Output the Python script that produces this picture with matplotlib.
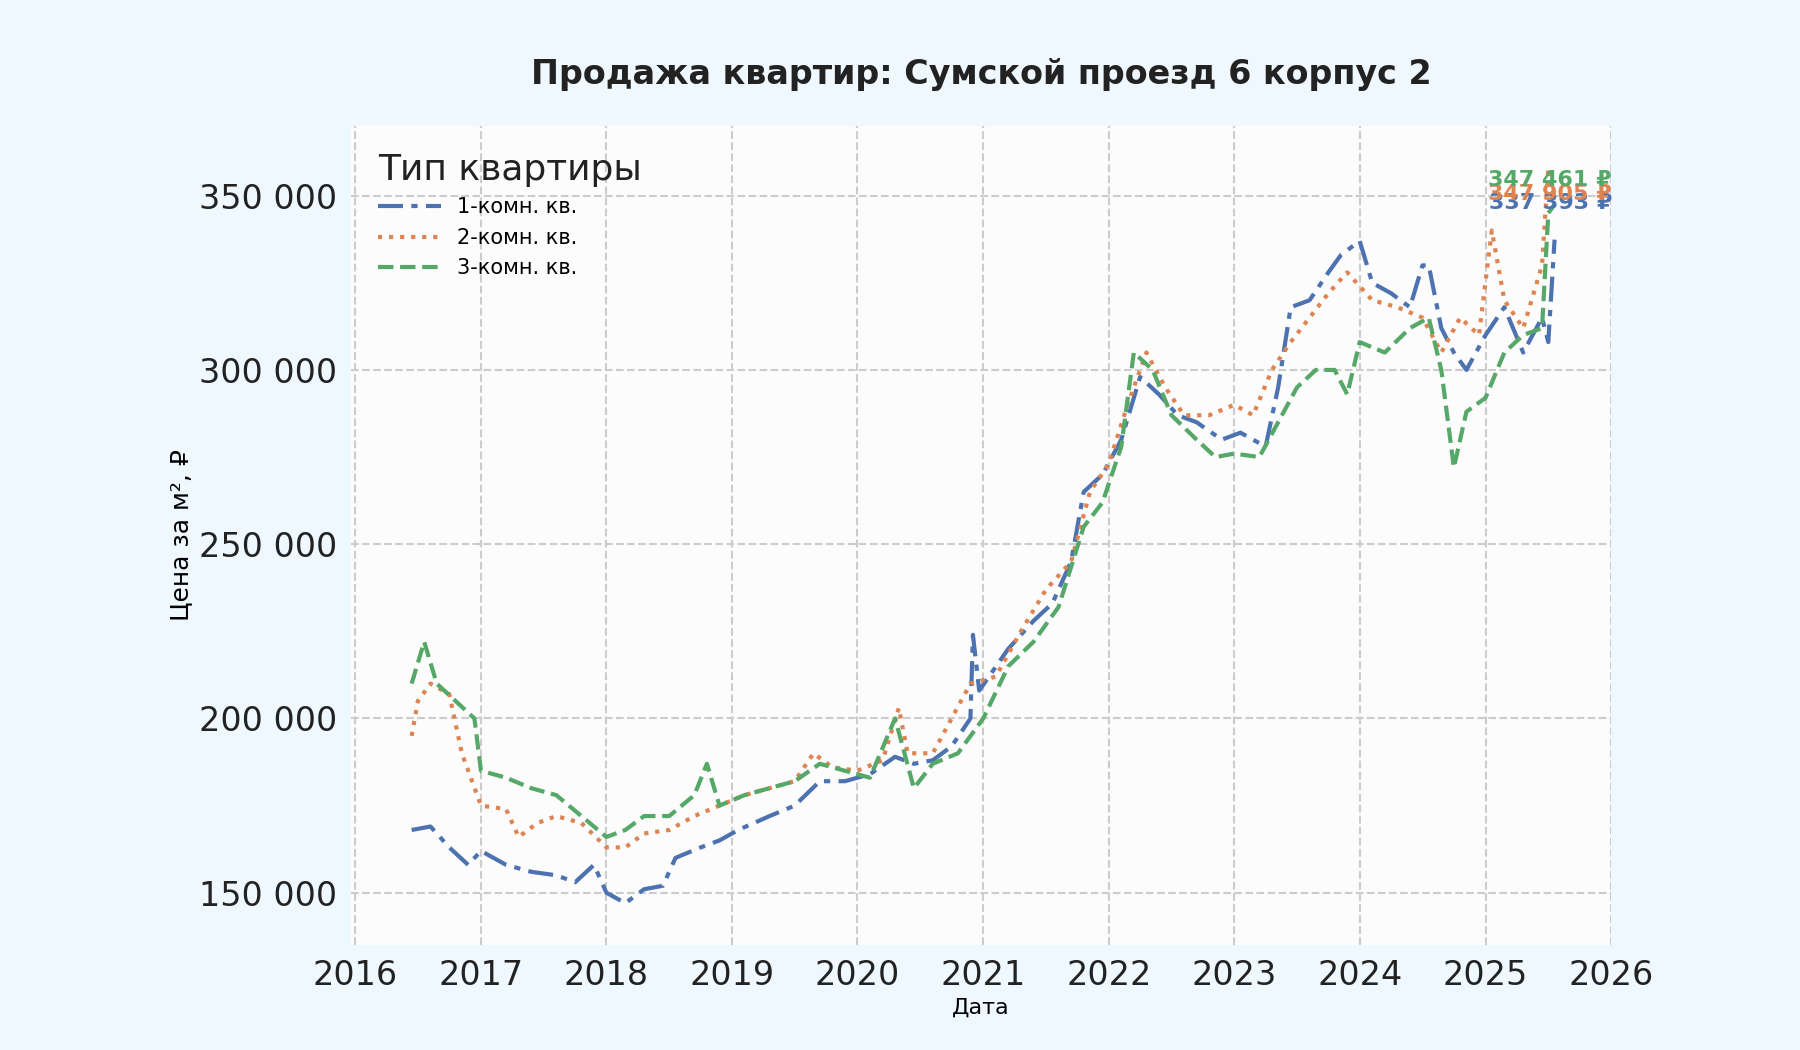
import numpy as np
import pandas as pd
import matplotlib
matplotlib.use('Agg')
import matplotlib.pyplot as plt
import matplotlib.dates as mdates
from matplotlib.ticker import FuncFormatter

# decimal-year dates and prices per m2
t1 = [2016.45, 2016.6, 2016.75, 2016.9, 2017.0, 2017.2, 2017.4, 2017.6, 2017.75, 2017.9, 2018.0,
      2018.15, 2018.3, 2018.45, 2018.55, 2018.75, 2018.9, 2019.05, 2019.3, 2019.5, 2019.7, 2019.9,
      2020.1, 2020.3, 2020.45, 2020.6, 2020.75, 2020.9, 2020.92, 2020.97, 2021.2, 2021.4, 2021.55,
      2021.7, 2021.8, 2021.95, 2022.1, 2022.25, 2022.4, 2022.55, 2022.7, 2022.9, 2023.05, 2023.25,
      2023.35, 2023.45, 2023.6, 2023.75, 2023.85, 2024.0, 2024.1, 2024.25, 2024.4, 2024.5, 2024.55,
      2024.65, 2024.75, 2024.85, 2025.0, 2025.15, 2025.3, 2025.45, 2025.5, 2025.55]
p1 = [168e3, 169e3, 163e3, 158e3, 162e3, 158e3, 156e3, 155e3, 153e3, 158e3, 150e3,
      147e3, 151e3, 152e3, 160e3, 163e3, 165e3, 168e3, 172e3, 175e3, 182e3, 182e3,
      184e3, 189e3, 187e3, 188e3, 192e3, 200e3, 224e3, 208e3, 220e3, 228e3, 233e3,
      245e3, 265e3, 270e3, 280e3, 298e3, 293e3, 287e3, 285e3, 280e3, 282e3, 278e3,
      295e3, 318e3, 320e3, 328e3, 333e3, 337e3, 325e3, 322e3, 318e3, 330e3, 330e3,
      312e3, 305e3, 300e3, 310e3, 318e3, 305e3, 315e3, 308e3, 337393]

t2 = [2016.45, 2016.5, 2016.6, 2016.75, 2016.85, 2017.0, 2017.2, 2017.3, 2017.45, 2017.6, 2017.8,
      2018.0, 2018.15, 2018.3, 2018.5, 2018.7, 2018.9, 2019.1, 2019.3, 2019.5, 2019.65, 2019.8,
      2020.0, 2020.2, 2020.33, 2020.4, 2020.6, 2020.75, 2020.9, 2021.1, 2021.3, 2021.5, 2021.7,
      2021.85, 2022.0, 2022.15, 2022.3, 2022.45, 2022.6, 2022.8, 2023.0, 2023.15, 2023.3, 2023.45,
      2023.6, 2023.75, 2023.9, 2024.1, 2024.3, 2024.5, 2024.65, 2024.8, 2024.95, 2025.05, 2025.15,
      2025.3, 2025.45, 2025.5, 2025.55]
p2 = [195e3, 205e3, 210e3, 207e3, 190e3, 175e3, 174e3, 166e3, 170e3, 172e3, 170e3,
      163e3, 163e3, 167e3, 168e3, 172e3, 175e3, 178e3, 180e3, 182e3, 190e3, 186e3,
      185e3, 188e3, 203e3, 190e3, 190e3, 200e3, 210e3, 212e3, 225e3, 237e3, 245e3,
      265e3, 273e3, 290e3, 305e3, 295e3, 287e3, 287e3, 290e3, 287e3, 300e3, 308e3,
      315e3, 322e3, 328e3, 320e3, 318e3, 315e3, 305e3, 315e3, 310e3, 340e3, 320e3,
      312e3, 330e3, 358e3, 347905]

t3 = [2016.45, 2016.55, 2016.65, 2016.8, 2016.95, 2017.0, 2017.2, 2017.4, 2017.6, 2017.8, 2018.0,
      2018.15, 2018.3, 2018.5, 2018.7, 2018.8, 2018.9, 2019.1, 2019.3, 2019.5, 2019.7, 2019.9,
      2020.1, 2020.3, 2020.45, 2020.6, 2020.8, 2021.0, 2021.2, 2021.4, 2021.6, 2021.8, 2021.95,
      2022.1, 2022.2, 2022.35, 2022.5, 2022.7, 2022.85, 2023.0, 2023.2, 2023.35, 2023.5, 2023.65,
      2023.8, 2023.9, 2024.0, 2024.2, 2024.4, 2024.55, 2024.65, 2024.75, 2024.85, 2025.0, 2025.15,
      2025.3, 2025.45, 2025.5, 2025.55]
p3 = [210e3, 222e3, 210e3, 205e3, 200e3, 185e3, 183e3, 180e3, 178e3, 172e3, 166e3,
      168e3, 172e3, 172e3, 178e3, 187e3, 175e3, 178e3, 180e3, 182e3, 187e3, 185e3,
      183e3, 200e3, 180e3, 187e3, 190e3, 200e3, 215e3, 222e3, 232e3, 255e3, 262e3,
      278e3, 305e3, 300e3, 287e3, 280e3, 275e3, 276e3, 275e3, 285e3, 295e3, 300e3,
      300e3, 293e3, 308e3, 305e3, 312e3, 315e3, 300e3, 272e3, 288e3, 292e3, 305e3,
      310e3, 312e3, 345e3, 347461]

labels = ['1-комн. кв.', '2-комн. кв.', '3-комн. кв.']
colors = ['#4c72b0', '#dd8452', '#55a868']
styles = [(0, (6, 2, 1.5, 2)), ':', '--']
label_y = [348000, 350500, 354500]  # where the end-value labels sit


def to_dates(ts):
    return [pd.Timestamp(int(t), 1, 1) + pd.Timedelta(days=(t % 1) * 365.25) for t in ts]


plt.rcParams['font.family'] = ['DejaVu Sans']
fig = plt.figure(figsize=(18, 10.5), dpi=100, facecolor='#f0f8ff')
ax = fig.add_axes([0.195, 0.1, 0.70, 0.78], facecolor='#fcfcfc')
xmax = pd.Timestamp(2026, 1, 1)

for ts, ps, lab, c, ls, ly in zip([t1, t2, t3], [p1, p2, p3], labels, colors, styles, label_y):
    d = to_dates(ts)
    ax.plot(d, ps, linestyle=ls, color=c, lw=3, label=lab)
    ax.text(xmax + pd.Timedelta(days=3), ly, f'{ps[-1]:,.0f} ₽'.replace(',', ' '),
            color=c, fontsize=16, fontweight='bold', va='center', ha='right')

ax.set_xlim(pd.Timestamp(2015, 12, 20), xmax)
ax.set_ylim(135000, 370000)
ax.xaxis.set_major_locator(mdates.YearLocator())
ax.xaxis.set_major_formatter(mdates.DateFormatter('%Y'))
ax.yaxis.set_major_formatter(FuncFormatter(lambda v, p: f'{v:,.0f}'.replace(',', ' ')))
ax.set_yticks([150000, 200000, 250000, 300000, 350000])
ax.tick_params(labelsize=24, length=0, pad=10, colors='#222222')
ax.grid(True, ls='--', lw=1.5, color='#cccccc')
for s in ax.spines.values():
    s.set_visible(False)

ax.set_title('Продажа квартир: Сумской проезд 6 корпус 2', fontsize=24,
             fontweight='bold', pad=30, color='#222222')
ax.set_xlabel('Дата', fontsize=16)
ax.set_ylabel('Цена за м², ₽', fontsize=18)
leg = ax.legend(title='Тип квартиры', loc='upper left', frameon=False,
                fontsize=15, title_fontsize=26, handlelength=3, borderpad=0.8)
leg._legend_box.align = 'left'
for h in leg.legend_handles:
    pass
leg.get_title().set_color('#222222')
for p in leg._legend_handle_box.get_children():
    p.set_offset = p.set_offset
leg._legend_handle_box.set_offset = leg._legend_handle_box.set_offset

fig.savefig('out.png', facecolor=fig.get_facecolor())
